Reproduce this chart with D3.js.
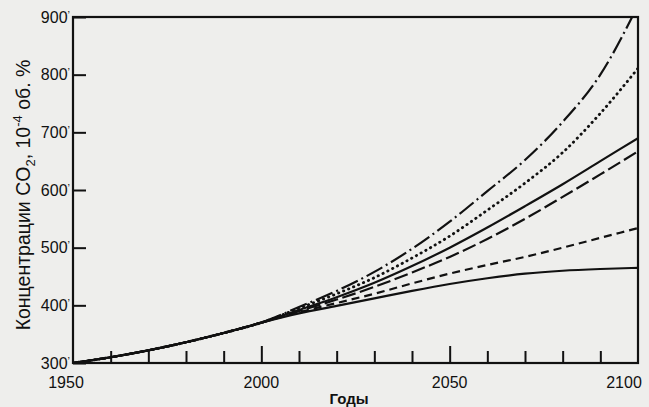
<!DOCTYPE html>
<html lang="ru">
  <head>
    <meta charset="UTF-8" />
    <title>CO2</title>
    <style>
      body { margin: 0; background: #eeeeec; }
      svg { display: block; font-family: "Liberation Sans", Arial, sans-serif; }
    </style>
  </head>
  <body>
    <svg width="649" height="407"></svg>
    <script src="https://cdnjs.cloudflare.com/ajax/libs/d3/7.8.5/d3.min.js"></script>
    <script>
      var years = [1950, 1960, 1970, 1980, 1990, 2000, 2010, 2020, 2030, 2040, 2050, 2060, 2070, 2080, 2090, 2100];

      // values, 10^-4 vol. %
      var dashDot = [300, 310, 322, 336, 352, 370, 397, 425, 458, 498, 545, 598, 652, 718, 800, 920];
      var dotted = [300, 310, 322, 336, 352, 370, 395, 420, 448, 482, 520, 565, 612, 665, 733, 811];
      var solidHigh = [300, 310, 322, 336, 352, 370, 392, 414, 439, 468, 500, 535, 572, 610, 650, 690];
      var longDash = [300, 310, 322, 336, 352, 370, 390, 410, 432, 457, 484, 515, 550, 588, 627, 667];
      var shortDash = [300, 310, 322, 336, 352, 370, 388, 404, 420, 438, 455, 470, 484, 500, 517, 534];
      var solidLow = [300, 310, 322, 336, 352, 370, 386, 399, 412, 425, 437, 447, 455, 460, 463, 465];

      var yTicks = [300, 400, 500, 600, 700, 800, 900];
      var xLabels = [1950, 2000, 2050, 2100];

      var series = [
        { values: dashDot, dash: "18,4,2,4", cap: "butt" },
        { values: dotted, dash: "0.4,5", cap: "round" },
        { values: solidHigh, dash: null, cap: "butt" },
        { values: longDash, dash: "14,4.5", cap: "butt" },
        { values: shortDash, dash: "8,5", cap: "butt" },
        { values: solidLow, dash: null, cap: "butt" },
      ];

      var svg = d3.select("svg");
      var x0 = 73, x1 = 638, y0 = 363, y1 = 17;

      var x = d3.scaleLinear().domain([1950, 2100]).range([x0, x1]);
      var y = d3.scaleLinear().domain([300, 900]).range([y0, y1]);

      svg
        .append("clipPath")
        .attr("id", "plot")
        .append("rect")
        .attr("x", x0)
        .attr("y", y1)
        .attr("width", x1 - x0)
        .attr("height", y0 - y1);

      var line = d3
        .line()
        .x(function (d, i) {
          return x(years[i]);
        })
        .y(function (d) {
          return y(d);
        })
        .curve(d3.curveMonotoneX);

      svg
        .append("g")
        .attr("clip-path", "url(#plot)")
        .selectAll("path")
        .data(series)
        .enter()
        .append("path")
        .attr("d", function (d) {
          return line(d.values);
        })
        .attr("fill", "none")
        .attr("stroke", "#111")
        .attr("stroke-width", function (d) {
          return d.cap === "round" ? 2.8 : 2.2;
        })
        .attr("stroke-linecap", function (d) {
          return d.cap;
        })
        .attr("stroke-dasharray", function (d) {
          return d.dash;
        });

      // left axis, ticks pointing inward
      var yAxis = svg
        .append("g")
        .attr("transform", "translate(" + x0 + ",0)")
        .call(d3.axisRight(y).tickValues(yTicks).tickSize(13).tickFormat(""));
      yAxis.select(".domain").remove();
      yAxis.selectAll("line").attr("stroke", "#111").attr("stroke-width", 2);

      svg
        .append("g")
        .selectAll("text")
        .data(yTicks)
        .enter()
        .append("text")
        .attr("x", x0 - 3)
        .attr("y", function (d) {
          return y(d);
        })
        .attr("dy", "0.35em")
        .attr("text-anchor", "end")
        .attr("font-size", 16)
        .attr("fill", "#111")
        .text(function (d) {
          return d;
        })
        .append("tspan")
        .attr("font-size", 11)
        .attr("dy", "-0.35em")
        .text("’");

      // bottom axis, ticks every 10 years pointing up
      var xAxis = svg
        .append("g")
        .attr("transform", "translate(0," + y0 + ")")
        .call(d3.axisTop(x).tickValues(d3.range(1960, 2100, 10)).tickSize(12).tickFormat(""));
      xAxis.select(".domain").remove();
      xAxis
        .selectAll("line")
        .attr("stroke", "#111")
        .attr("stroke-width", 2)
        .attr("y2", function (d) {
          return d % 50 === 0 ? -17 : -12;
        });

      svg
        .append("g")
        .selectAll("text")
        .data(xLabels)
        .enter()
        .append("text")
        .attr("x", function (d) {
          return x(d) - (d === 1950 ? 7 : d === 2100 ? 14 : 0);
        })
        .attr("y", 388)
        .attr("text-anchor", "middle")
        .attr("font-size", 16)
        .attr("fill", "#111")
        .text(function (d) {
          return d;
        });

      // frame
      svg
        .append("rect")
        .attr("x", x0)
        .attr("y", y1)
        .attr("width", x1 - x0)
        .attr("height", y0 - y1)
        .attr("fill", "none")
        .attr("stroke", "#111")
        .attr("stroke-width", 2.2);

      svg
        .append("text")
        .attr("x", 349)
        .attr("y", 404)
        .attr("text-anchor", "middle")
        .attr("font-size", 15)
        .attr("font-weight", "bold")
        .attr("fill", "#111")
        .text("Годы");

      var yLabel = svg
        .append("text")
        .attr("transform", "translate(30,195) rotate(-90)")
        .attr("text-anchor", "middle")
        .attr("font-size", 19.5)
        .attr("fill", "#111");
      yLabel.append("tspan").text("Концентрации CO");
      yLabel.append("tspan").attr("font-size", 13).attr("dy", 5).text("2");
      yLabel.append("tspan").attr("dy", -5).text(", 10");
      yLabel.append("tspan").attr("font-size", 13).attr("dy", -8).text("-4");
      yLabel.append("tspan").attr("dy", 8).text(" об. %");
    </script>
  </body>
</html>
